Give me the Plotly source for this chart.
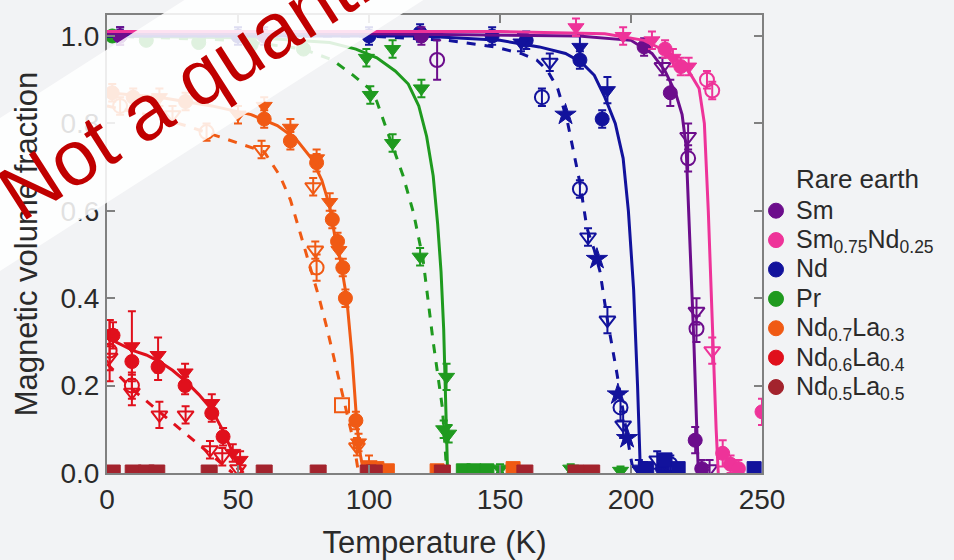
import plotly.graph_objects as go

# ---------------- colours ----------------
C_SM = "#6c0d8c"
C_SMND = "#ee3399"
C_ND = "#12129c"
C_PR = "#1f9a1f"
C_ND7 = "#f05a14"
C_ND6 = "#e0101c"
C_ND5 = "#a3232d"

# ---------------- data ----------------
x_ticks = [0, 50, 100, 150, 200, 250]
y_ticks = [0.0, 0.2, 0.4, 0.6, 0.8, 1.0]

# Sm
sm_fit_T = [0, 100, 180, 200, 208, 213, 217, 219.5, 221, 222.6, 224, 225, 225.7]
sm_fit_v = [1.005, 1.005, 1.0, 0.99, 0.96, 0.92, 0.87, 0.82, 0.75, 0.53, 0.30, 0.12, 0.0]
sm_circ_T = [5, 60, 120, 205, 215, 224.5, 227]
sm_circ_v = [1.0, 1.0, 1.0, 0.975, 0.87, 0.075, 0.01]
sm_circ_e = [0.02, 0.02, 0.02, 0.02, 0.03, 0.03, 0.02]
sm_open_T = [126, 221.8, 225]
sm_open_v = [0.945, 0.72, 0.33]
sm_open_e = [0.045, 0.03, 0.03]
sm_otri_T = [212, 221.8, 225, 230]
sm_otri_v = [0.93, 0.77, 0.37, 0.01]
sm_otri_e = [0.02, 0.03, 0.03, 0.02]

# Sm0.75Nd0.25
smnd_fit_T = [0, 150, 190, 205, 215, 222, 226, 228, 229.5, 230.5, 231.5, 232.5, 233.3]
smnd_fit_v = [1.01, 1.01, 1.005, 0.99, 0.96, 0.92, 0.88, 0.80, 0.60, 0.42, 0.25, 0.10, 0.0]
smnd_tri_T = [179, 197, 208, 216, 222]
smnd_tri_v = [1.02, 1.0, 0.99, 0.95, 0.93]
smnd_tri_e = [0.02, 0.02, 0.02, 0.02, 0.02]
smnd_circ_T = [213, 219, 235, 238, 241, 250]
smnd_circ_v = [0.97, 0.93, 0.045, 0.02, 0.01, 0.14]
smnd_circ_e = [0.02, 0.02, 0.03, 0.02, 0.02, 0.03]
smnd_open_T = [229, 231]
smnd_open_v = [0.90, 0.875]
smnd_open_e = [0.02, 0.02]
smnd_otri_T = [231]
smnd_otri_v = [0.28]
smnd_otri_e = [0.03]

# Nd
nd_fit_T = [0, 120, 150, 165, 175, 181, 186, 190, 194, 197, 199, 201, 202.5, 203.6]
nd_fit_v = [1.0, 1.0, 0.99, 0.975, 0.96, 0.94, 0.91, 0.86, 0.80, 0.72, 0.60, 0.42, 0.20, 0.0]
nd_dfit_T = [0, 100, 130, 148, 158, 164, 168, 172, 175.6, 178, 180.5, 183.2, 186, 188.2, 190.8, 194.6, 197.5, 199.6, 201]
nd_dfit_v = [1.0, 1.0, 0.99, 0.975, 0.96, 0.945, 0.922, 0.88, 0.808, 0.74, 0.664, 0.56, 0.51, 0.46, 0.357, 0.229, 0.12, 0.046, 0.0]
nd_circ_T = [5, 50, 100, 119.5, 147, 160, 180.5, 189, 205, 212]
nd_circ_v = [1.0, 1.0, 1.0, 1.007, 1.0, 0.99, 0.945, 0.81, 0.005, 0.01]
nd_circ_e = [0.02, 0.02, 0.02, 0.02, 0.02, 0.02, 0.02, 0.02, 0.02, 0.02]
nd_tri_T = [158, 180.5, 191, 203]
nd_tri_v = [0.985, 0.975, 0.876, 0.01]
nd_tri_e = [0.02, 0.03, 0.03, 0.02]
nd_open_T = [166, 180.5, 196, 215]
nd_open_v = [0.86, 0.65, 0.15, 0.02]
nd_open_e = [0.02, 0.02, 0.03, 0.02]
nd_otri_T = [169, 183.6, 191, 197, 210]
nd_otri_v = [0.94, 0.54, 0.35, 0.11, 0.03]
nd_otri_e = [0.02, 0.02, 0.03, 0.03, 0.02]
nd_star_T = [175, 187, 195, 198.5]
nd_star_v = [0.82, 0.49, 0.18, 0.08]
nd_sq_T = [206, 213, 218, 247]
nd_sq_v = [0.01, 0.03, 0.01, 0.01]

# Pr
pr_fit_T = [0, 60, 85, 95, 103, 110, 115, 119, 122, 124.5, 126.2, 127.5, 128.5, 129.3, 130]
pr_fit_v = [1.0, 0.995, 0.985, 0.97, 0.95, 0.92, 0.89, 0.84, 0.77, 0.68, 0.57, 0.46, 0.33, 0.18, 0.0]
pr_dfit_T = [0, 50, 75, 86, 94, 100, 103, 106, 109, 113, 117, 120.6, 124.5, 128, 129.7]
pr_dfit_v = [1.0, 0.99, 0.97, 0.945, 0.91, 0.88, 0.85, 0.80, 0.75, 0.68, 0.595, 0.49, 0.30, 0.15, 0.0]
pr_circ_T = [2, 15, 35, 55, 75]
pr_circ_v = [1.0, 0.99, 0.985, 0.98, 0.97]
pr_tri_T = [109, 120, 129.6, 130.4, 140, 177]
pr_tri_v = [0.97, 0.88, 0.22, 0.09, 0.005, 0.01]
pr_tri_e = [0.02, 0.02, 0.03, 0.02, 0.01, 0.01]
pr_tri2_T = [99, 100.5, 109, 119.5, 128.5, 150, 196]
pr_tri2_v = [0.95, 0.865, 0.755, 0.495, 0.10, 0.01, 0.005]
pr_tri2_e = [0.02, 0.02, 0.02, 0.02, 0.02, 0.01, 0.01]
pr_sq_T = [136, 140, 145]
pr_sq_v = [0.005, 0.005, 0.005]

# Nd0.7La0.3
nd7_fit_T = [0, 20, 40, 55, 65, 72, 78, 82, 85, 87, 89, 91.5, 93.5, 95.4, 96.6, 98]
nd7_fit_v = [0.87, 0.86, 0.84, 0.82, 0.795, 0.765, 0.72, 0.67, 0.61, 0.54, 0.49, 0.40, 0.27, 0.11, 0.045, 0.0]
nd7_dfit_T = [0, 15, 30, 40, 50, 60, 66, 70, 73.7, 77.5, 81, 84, 87, 90, 92, 94, 96]
nd7_dfit_v = [0.84, 0.82, 0.795, 0.775, 0.755, 0.735, 0.68, 0.625, 0.55, 0.47, 0.40, 0.33, 0.255, 0.18, 0.125, 0.075, 0.0]
nd7_circ_T = [2, 10, 30, 60, 70, 80, 86, 88, 90, 91, 95]
nd7_circ_v = [0.87, 0.86, 0.85, 0.81, 0.76, 0.71, 0.58, 0.53, 0.47, 0.40, 0.12]
nd7_circ_e = [0.02, 0.02, 0.02, 0.02, 0.02, 0.02, 0.02, 0.02, 0.02, 0.02, 0.02]
nd7_tri_T = [20, 50, 60, 70, 80, 85, 88.5, 96, 100]
nd7_tri_v = [0.86, 0.82, 0.84, 0.79, 0.72, 0.62, 0.51, 0.07, 0.02]
nd7_tri_e = [0.02, 0.02, 0.02, 0.02, 0.02, 0.02, 0.02, 0.02, 0.02]
nd7_open_T = [5, 38, 80]
nd7_open_v = [0.84, 0.78, 0.47]
nd7_open_e = [0.02, 0.02, 0.03]
nd7_otri_T = [25, 59, 78.7, 79.5, 95.4]
nd7_otri_v = [0.82, 0.74, 0.655, 0.51, 0.06]
nd7_otri_e = [0.02, 0.02, 0.02, 0.02, 0.02]
nd7_osq_T = [89.7]
nd7_osq_v = [0.155]
nd7_sq_T = [103, 107, 126, 155]
nd7_sq_v = [0.01, 0.005, 0.005, 0.01]

# Nd0.6La0.4
nd6_fit_T = [0, 5, 10, 15, 20, 25, 30, 35, 40, 44, 47, 50, 52]
nd6_fit_v = [0.31, 0.295, 0.28, 0.27, 0.255, 0.235, 0.21, 0.18, 0.145, 0.10, 0.06, 0.02, 0.0]
nd6_dfit_T = [0, 5, 10, 15, 20, 25, 30, 35, 40, 44, 48]
nd6_dfit_v = [0.25, 0.22, 0.19, 0.165, 0.14, 0.115, 0.09, 0.065, 0.04, 0.02, 0.0]
nd6_circ_T = [2.3, 9.5, 19.5, 29.8, 40, 44.3]
nd6_circ_v = [0.315, 0.255, 0.243, 0.20, 0.137, 0.083]
nd6_circ_e = [0.03, 0.03, 0.03, 0.02, 0.02, 0.02]
nd6_tri_T = [1, 9.5, 19.5, 29.8, 40, 48, 50.8]
nd6_tri_v = [0.32, 0.29, 0.27, 0.23, 0.16, 0.046, 0.03]
nd6_tri_e = [0.03, 0.08, 0.04, 0.02, 0.02, 0.02, 0.02]
nd6_open_T = [1, 9.5]
nd6_open_v = [0.28, 0.20]
nd6_open_e = [0.07, 0.03]
nd6_otri_T = [1, 9.5, 20, 30, 39.3, 44, 50]
nd6_otri_v = [0.265, 0.185, 0.133, 0.133, 0.053, 0.037, 0.01]
nd6_otri_e = [0.03, 0.03, 0.03, 0.02, 0.02, 0.02, 0.02]

# Nd0.5La0.5
nd5_T = [2, 10, 15, 19, 39, 60, 80.6, 99.7, 102, 128, 159.5, 179, 185]
nd5_v = [0, 0, 0, 0, 0, 0, 0, 0, 0, 0, 0, 0, 0]

legend_names = [
    "Sm",
    "Sm<sub>0.75</sub>Nd<sub>0.25</sub>",
    "Nd",
    "Pr",
    "Nd<sub>0.7</sub>La<sub>0.3</sub>",
    "Nd<sub>0.6</sub>La<sub>0.4</sub>",
    "Nd<sub>0.5</sub>La<sub>0.5</sub>",
]
legend_colors = [C_SM, C_SMND, C_ND, C_PR, C_ND7, C_ND6, C_ND5]

# ---------------- figure ----------------
fig = go.Figure()
MS = 14


def fit(T, v, color, dash="solid"):
    fig.add_trace(go.Scatter(x=T, y=v, mode="lines",
                             line=dict(color=color, width=3, dash=dash),
                             showlegend=False, hoverinfo="skip"))


def pts(T, v, color, symbol, err=None, size=MS):
    is_open = symbol.endswith("-open")
    kw = {}
    if err is not None:
        kw["error_y"] = dict(type="data", array=err, color=color,
                             thickness=2, width=4)
    fig.add_trace(go.Scatter(
        x=T, y=v, mode="markers",
        marker=dict(symbol=symbol, size=size, color=color,
                    line=dict(color=color, width=2 if is_open else 1)),
        showlegend=False, **kw))


# Pr
fit(pr_fit_T, pr_fit_v, C_PR)
fit(pr_dfit_T, pr_dfit_v, C_PR, "dash")
pts(pr_circ_T, pr_circ_v, C_PR, "circle")
pts(pr_tri_T, pr_tri_v, C_PR, "triangle-down", pr_tri_e)
pts(pr_tri2_T, pr_tri2_v, C_PR, "triangle-down", pr_tri2_e)
pts(pr_sq_T, pr_sq_v, C_PR, "square")

# Nd
fit(nd_fit_T, nd_fit_v, C_ND)
fit(nd_dfit_T, nd_dfit_v, C_ND, "dash")
pts(nd_circ_T, nd_circ_v, C_ND, "circle", nd_circ_e)
pts(nd_tri_T, nd_tri_v, C_ND, "triangle-down", nd_tri_e)
pts(nd_open_T, nd_open_v, C_ND, "circle-open", nd_open_e)
pts(nd_otri_T, nd_otri_v, C_ND, "triangle-down-open", nd_otri_e)
pts(nd_star_T, nd_star_v, C_ND, "star", None, 16)
pts(nd_sq_T, nd_sq_v, C_ND, "square")

# Sm
fit(sm_fit_T, sm_fit_v, C_SM)
pts(sm_circ_T, sm_circ_v, C_SM, "circle", sm_circ_e)
pts(sm_open_T, sm_open_v, C_SM, "circle-open", sm_open_e)
pts(sm_otri_T, sm_otri_v, C_SM, "triangle-down-open", sm_otri_e)

# Sm0.75Nd0.25
fit(smnd_fit_T, smnd_fit_v, C_SMND)
pts(smnd_tri_T, smnd_tri_v, C_SMND, "triangle-down", smnd_tri_e)
pts(smnd_circ_T, smnd_circ_v, C_SMND, "circle", smnd_circ_e)
pts(smnd_open_T, smnd_open_v, C_SMND, "circle-open", smnd_open_e)
pts(smnd_otri_T, smnd_otri_v, C_SMND, "triangle-down-open", smnd_otri_e)

# Nd0.7La0.3
fit(nd7_fit_T, nd7_fit_v, C_ND7)
fit(nd7_dfit_T, nd7_dfit_v, C_ND7, "dash")
pts(nd7_circ_T, nd7_circ_v, C_ND7, "circle", nd7_circ_e)
pts(nd7_tri_T, nd7_tri_v, C_ND7, "triangle-down", nd7_tri_e)
pts(nd7_open_T, nd7_open_v, C_ND7, "circle-open", nd7_open_e)
pts(nd7_otri_T, nd7_otri_v, C_ND7, "triangle-down-open", nd7_otri_e)
pts(nd7_osq_T, nd7_osq_v, C_ND7, "square-open")
pts(nd7_sq_T, nd7_sq_v, C_ND7, "square")

# Nd0.6La0.4
fit(nd6_fit_T, nd6_fit_v, C_ND6)
fit(nd6_dfit_T, nd6_dfit_v, C_ND6, "dash")
pts(nd6_circ_T, nd6_circ_v, C_ND6, "circle", nd6_circ_e)
pts(nd6_tri_T, nd6_tri_v, C_ND6, "triangle-down", nd6_tri_e)
pts(nd6_open_T, nd6_open_v, C_ND6, "circle-open", nd6_open_e)
pts(nd6_otri_T, nd6_otri_v, C_ND6, "triangle-down-open", nd6_otri_e)

# Nd0.5La0.5
pts(nd5_T, nd5_v, C_ND5, "square", None, 16)

# legend entries (bigger glyphs, compact rows)
for name, col in zip(legend_names, legend_colors):
    fig.add_trace(go.Scatter(
        x=[None], y=[None], mode="markers",
        name='<span style="font-size:25px">' + name + '</span>',
        marker=dict(symbol="circle", size=15, color=col,
                    line=dict(color=col, width=1))))

# ---------------- layout ----------------
L, R, T, B = 107, 192, 15, 87
W, H = 954, 560
PW, PH = W - L - R, H - T - B


def px(x):  # pixel -> paper x
    return (x - L) / PW


def py(y):  # pixel -> paper y
    return (H - B - y) / PH


FONT = "Liberation Sans, Arial, Helvetica, sans-serif"
AX = "#808080"
TXT = "#2a2a2a"

axis_common = dict(showline=True, linecolor=AX, linewidth=2, mirror="ticks",
                   ticks="inside", ticklen=8, tickwidth=2, tickcolor=AX,
                   showgrid=False, zeroline=False, automargin=False,
                   tickfont=dict(family=FONT, size=28, color=TXT))

fig.update_layout(
    width=W, height=H,
    margin=dict(l=L, r=R, t=T, b=B, pad=0),
    paper_bgcolor="#f2f3f5", plot_bgcolor="#f2f3f5",
    font=dict(family=FONT, color=TXT),
    xaxis=dict(range=[0, 250], tickvals=x_ticks, ticktext=[str(t) for t in x_ticks],
               title=dict(text="Temperature (K)", font=dict(size=31, family=FONT), standoff=18),
               **axis_common),
    yaxis=dict(range=[0, 1.048], tickvals=y_ticks,
               ticktext=["%.1f" % t for t in y_ticks],
               title=dict(text="Magnetic volume fraction", font=dict(size=31, family=FONT), standoff=14),
               **axis_common),
    legend=dict(x=px(756), y=py(191), xanchor="left", yanchor="top",
                bgcolor="rgba(0,0,0,0)", font=dict(family=FONT, size=20.3, color=TXT),
                itemwidth=30, tracegroupgap=0),
    showlegend=True,
)

# legend title
fig.add_annotation(x=px(794), y=py(179), xref="paper", yref="paper",
                   text="Rare earth", showarrow=False, xanchor="left", yanchor="middle",
                   font=dict(family=FONT, size=26, color=TXT))

# watermark band
band = [(-200, 246), (500, -202), (700, -177), (-200, 399)]
path = "M " + " L ".join("%f,%f" % (px(a), py(b)) for a, b in band) + " Z"
fig.add_shape(type="path", path=path, xref="paper", yref="paper",
              fillcolor="rgba(255,255,255,0.86)", line=dict(width=0), layer="above")
fig.add_annotation(x=px(262), y=py(37), xref="paper", yref="paper",
                   text="Not a quantitative", showarrow=False, textangle=-32.6,
                   xanchor="center", yanchor="middle",
                   font=dict(family=FONT, size=78, color="#c00000"))

fig.write_html("out.html")
